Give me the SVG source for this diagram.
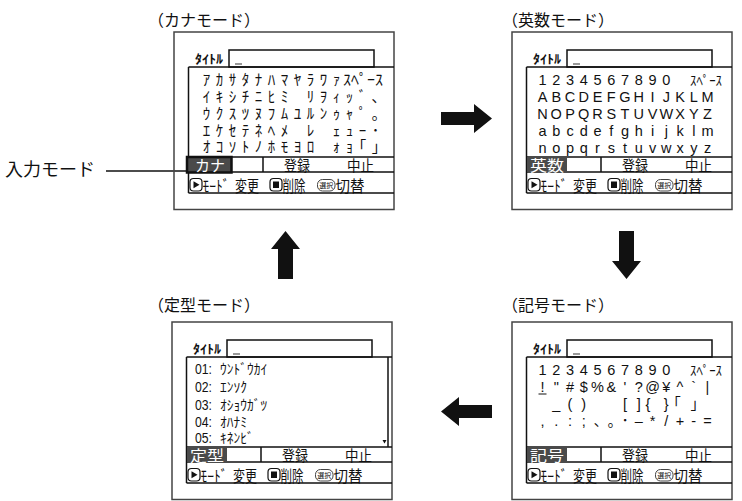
<svg xmlns="http://www.w3.org/2000/svg" xmlns:xlink="http://www.w3.org/1999/xlink" width="742" height="501" viewBox="0 0 742 501">
<defs>
<style>
.fr{fill:none;stroke:#444;stroke-width:1.5}
.ln{fill:none;stroke:#111;stroke-width:1.5}
.thin{fill:none;stroke:#111;stroke-width:1.2}
.jp{font-family:"Noto Sans CJK JP","Noto Sans CJK SC",sans-serif;fill:#111}
.la{font-family:"Liberation Sans","Noto Sans",sans-serif;fill:#111}
.g{font-size:14.5px;text-anchor:middle}
.k{font-size:15px;text-anchor:middle}
.ttl{font-size:12.5px;font-weight:bold}
.btn{font-size:14.5px}
.bt{font-size:15.5px}
.tabr{fill:#4a4a4a}
.tabt{fill:#fff;font-size:15px}
.hdr{font-size:16px}
.cur{fill:#999}
</style>
<g id="shell">
<rect class="fr" x="0" y="0" width="220" height="177.5"/>
<text class="jp ttl" x="21" y="32" textLength="28" lengthAdjust="spacingAndGlyphs">ﾀｲﾄﾙ</text>
<rect class="ln" x="55" y="18" width="145" height="17"/>
<rect class="cur" x="61" y="31" width="7" height="2"/>
<path class="ln" d="M14.5 35V161M14.5 35H220M14.5 125H220M14.5 140H220M14.5 161H220M89 125V140"/>
<text class="jp btn" x="110" y="138.5" textLength="26" lengthAdjust="spacingAndGlyphs">登録</text>
<text class="jp btn" x="173" y="138.5" textLength="27" lengthAdjust="spacingAndGlyphs">中止</text>
<rect class="thin" x="16" y="146.5" width="12" height="12.5" rx="3.5"/>
<path d="M19.5 149.3V156.3L25.5 152.8Z" fill="#111"/>
<text class="jp bt" x="28.5" y="159.5" textLength="27" lengthAdjust="spacingAndGlyphs">ﾓｰﾄﾞ</text>
<text class="jp bt" x="61" y="159.5" textLength="24" lengthAdjust="spacingAndGlyphs">変更</text>
<rect class="thin" x="96" y="146.5" width="12" height="12.5" rx="3.5"/>
<rect x="99" y="149.5" width="6" height="6.5" fill="#111"/>
<text class="jp bt" x="108.5" y="159.5" textLength="23" lengthAdjust="spacingAndGlyphs">削除</text>
<rect x="143.5" y="147.5" width="17.5" height="11.5" rx="5" fill="none" stroke="#444" stroke-width="1"/>
<text class="jp" x="152.2" y="156" font-size="7" text-anchor="middle" fill="#333">選択</text>
<text class="jp bt" x="161.5" y="159.5" textLength="29" lengthAdjust="spacingAndGlyphs">切替</text>
</g>
</defs>
<rect width="742" height="501" fill="#fff"/>

<g id="input-mode-callout">
<text class="jp" x="5" y="176" font-size="18">入力モード</text>
<line x1="106" y1="171" x2="186" y2="171" stroke="#111" stroke-width="1.3"/>
</g>

<g id="kana-mode">
<text class="jp hdr" x="148" y="26">（カナモード）</text>
<g transform="translate(174,32)">
<use xlink:href="#shell"/>
<rect class="tabr" x="13" y="125" width="44.5" height="15.5" stroke="#111" stroke-width="2.5"/>
<text class="jp tabt" x="21" y="138.5" textLength="30" lengthAdjust="spacingAndGlyphs">カナ</text>
<g class="jp k">
<text x="32.5 45.5 58.5 71.5 84.5 97.5 110.5 123.5 136.5 149.5 162.5" y="52.5">ｱｶｻﾀﾅﾊﾏﾔﾗﾜｧ</text>
<text x="189" y="52.5" textLength="40" lengthAdjust="spacingAndGlyphs">ｽﾍﾟｰｽ</text>
<text x="32.5 45.5 58.5 71.5 84.5 97.5 110.5 136.5 149.5 162.5 175.5 188.5 201.5" y="69.5">ｲｷｼﾁﾆﾋﾐﾘｦｨｯﾞ､</text>
<text x="32.5 45.5 58.5 71.5 84.5 97.5 110.5 123.5 136.5 149.5 162.5 175.5 188.5 201.5" y="86.5">ｳｸｽﾂﾇﾌﾑﾕﾙﾝｩｬﾟ｡</text>
<text x="32.5 45.5 58.5 71.5 84.5 97.5 110.5 136.5 162.5 175.5 188.5 201.5" y="103.5">ｴｹｾﾃﾈﾍﾒﾚｪｭｰ･</text>
<text x="32.5 45.5 58.5 71.5 84.5 97.5 110.5 123.5 136.5 162.5 175.5 188.5 201.5" y="120">ｵｺｿﾄﾉﾎﾓﾖﾛｫｮ｢｣</text>
</g>
</g>
</g>

<g id="alnum-mode">
<text class="jp hdr" x="502" y="26">（英数モード）</text>
<g transform="translate(512,32)">
<use xlink:href="#shell"/>
<rect class="tabr" x="15" y="125" width="40" height="15"/>
<text class="jp tabt" x="18" y="138.5" textLength="34" lengthAdjust="spacingAndGlyphs">英数</text>
<g class="la g">
<text x="30.5 44.25 58 71.75 85.5 99.25 113 126.75 140.5 154.25" y="53">1234567890</text>
<text x="30.5 44.25 58 71.75 85.5 99.25 113 126.75 140.5 154.25 168 181.75 195.5" y="70">ABCDEFGHIJKLM</text>
<text x="30.5 44.25 58 71.75 85.5 99.25 113 126.75 140.5 154.25 168 181.75 195.5" y="87">NOPQRSTUVWXYZ</text>
<text x="30.5 44.25 58 71.75 85.5 99.25 113 126.75 140.5 154.25 168 181.75 195.5" y="104">abcdefghijklm</text>
<text x="30.5 44.25 58 71.75 85.5 99.25 113 126.75 140.5 154.25 168 181.75 195.5" y="121">nopqrstuvwxyz</text>
</g>
<text class="jp" x="178" y="53" font-size="13" textLength="32" lengthAdjust="spacingAndGlyphs">ｽﾍﾟｰｽ</text>
</g>
</g>

<g id="fixed-mode">
<text class="jp hdr" x="148" y="311">（定型モード）</text>
<g transform="translate(172,322)">
<use xlink:href="#shell"/>
<path class="ln" d="M216 35V125"/>
<path d="M210.5 118H214.5L212.5 121.5Z" fill="#111"/>
<rect class="tabr" x="15" y="125" width="40" height="15"/>
<text class="jp tabt" x="18" y="138.5" textLength="34" lengthAdjust="spacingAndGlyphs">定型</text>
<g class="la" font-size="14.5">
<text x="23" y="52" textLength="17" lengthAdjust="spacingAndGlyphs">01:</text>
<text x="23" y="70" textLength="17" lengthAdjust="spacingAndGlyphs">02:</text>
<text x="23" y="88" textLength="17" lengthAdjust="spacingAndGlyphs">03:</text>
<text x="23" y="105" textLength="17" lengthAdjust="spacingAndGlyphs">04:</text>
<text x="23" y="121" textLength="17" lengthAdjust="spacingAndGlyphs">05:</text>
</g>
<g class="jp" font-size="13.5">
<text x="48" y="52">ｳﾝﾄﾞｳｶｲ</text>
<text x="48" y="70">ｴﾝｿｸ</text>
<text x="48" y="88">ｵｼｮｳｶﾞﾂ</text>
<text x="48" y="105">ｵﾊﾅﾐ</text>
<text x="48" y="121">ｷﾈﾝﾋﾞ</text>
</g>
</g>
</g>

<g id="symbol-mode">
<text class="jp hdr" x="502" y="311">（記号モード）</text>
<g transform="translate(512,322)">
<use xlink:href="#shell"/>
<rect class="tabr" x="15" y="125" width="40" height="15"/>
<text class="jp tabt" x="18" y="138.5" textLength="34" lengthAdjust="spacingAndGlyphs">記号</text>
<g class="la g">
<text x="30.5 44.25 58 71.75 85.5 99.25 113 126.75 140.5 154.25" y="53">1234567890</text>
<text x="30.5 44.25 58 71.75 85.5 99.25 113 126.75 140.5 154.25 168 181.75 195.5" y="70">!&quot;#$%&amp;&apos;?@¥^`|</text>
<text x="44.25 58 71.75 113 126.75 136 154.25" y="87">_()[]{}</text>
<text x="30.5 44.25 58 71.75 126.75 140.5 154.25 168 181.75 195.5" y="104">,.:;–*/+-=</text>
</g>
<text class="jp" x="178" y="53" font-size="13" textLength="32" lengthAdjust="spacingAndGlyphs">ｽﾍﾟｰｽ</text>
<line x1="26.5" y1="72" x2="34.5" y2="72" stroke="#111" stroke-width="1"/>
<g class="jp g">
<text x="165 182" y="87">｢｣</text>
<text x="85.5 99.25 113" y="104">､｡･</text>
</g>
</g>
</g>

<g id="connectors" fill="#111">
<path d="M441 112H474V104L492 118.5L474 133V125H441Z"/>
<path d="M619 231H634V261H641L626.5 279L612 261H619Z"/>
<path d="M492 405H459V397L441 411.5L459 426V418H492Z"/>
<path d="M278 279V249H271L285.5 231L300 249H293V279Z"/>
</g>
</svg>
